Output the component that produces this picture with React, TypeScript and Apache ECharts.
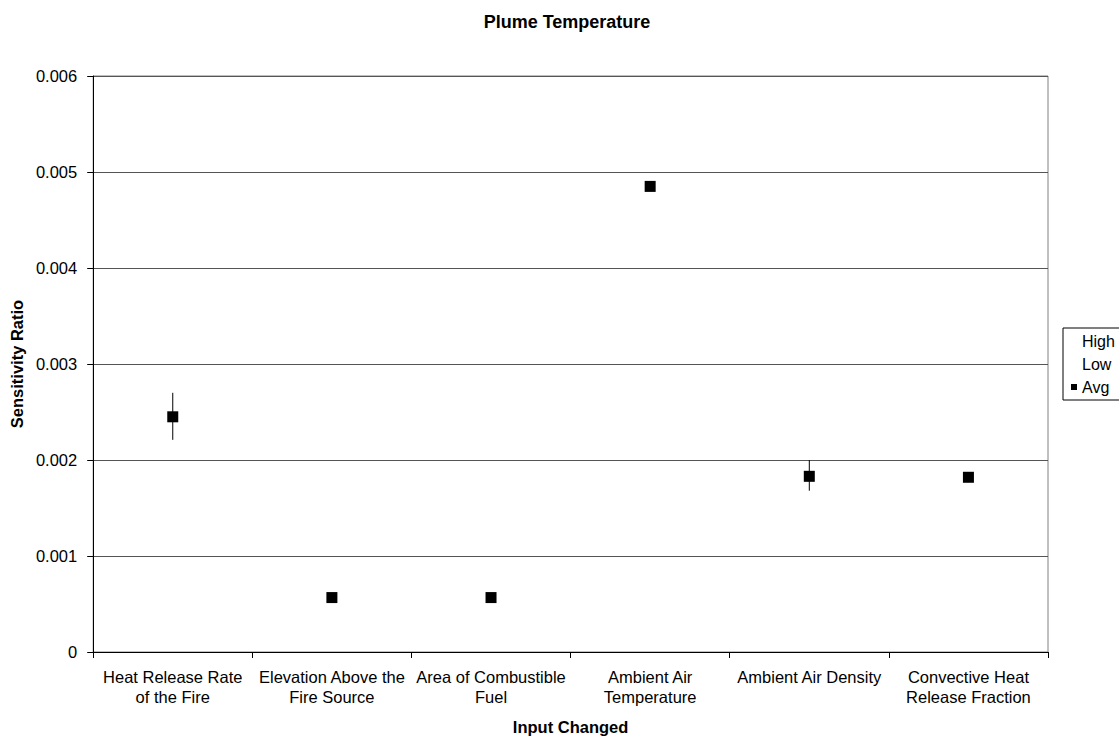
import React, { useEffect, useRef } from "react";
import * as echarts from "echarts";

const categories = [
  "Heat Release Rate\nof the Fire",
  "Elevation Above the\nFire Source",
  "Area of Combustible\nFuel",
  "Ambient Air\nTemperature",
  "Ambient Air Density",
  "Convective Heat\nRelease Fraction",
];
const highValues = [0.0027, 0.000575, 0.000575, 0.004855, 0.002, 0.001825];
const lowValues = [0.00221, 0.00056, 0.00056, 0.004845, 0.00168, 0.001805];
const avgValues = [0.00245, 0.000567, 0.000567, 0.00485, 0.00183, 0.00182];
const yTicks = [0, 0.001, 0.002, 0.003, 0.004, 0.005, 0.006];

const FONT = "'Liberation Sans', Arial, sans-serif";

export default function App() {
  const ref = useRef<HTMLDivElement>(null);
  useEffect(() => {
    if (!ref.current) return;
    const chart = echarts.init(ref.current, undefined, { renderer: "svg" });
    const rangeData = categories.map((_, i) => [i, highValues[i], lowValues[i]]);
    chart.setOption({
      animation: false,
      backgroundColor: "#fff",
      textStyle: { fontFamily: FONT, color: "#000" },
      title: {
        text: "Plume Temperature",
        left: 562,
        textAlign: "center",
        top: 8,
        textStyle: { fontFamily: FONT, fontSize: 18, fontWeight: "bold", color: "#000" },
      },
      legend: {
        orient: "vertical",
        left: 1063,
        top: 328,
        padding: [5, 20, 5, 8],
        borderColor: "#000",
        borderWidth: 1,
        backgroundColor: "#fff",
        itemWidth: 6,
        itemHeight: 6,
        itemGap: 7,
        textStyle: { fontFamily: FONT, fontSize: 16, color: "#000" },
        data: [
          { name: "High", icon: "rect", itemStyle: { opacity: 0 } },
          { name: "Low", icon: "rect", itemStyle: { opacity: 0 } },
          { name: "Avg", icon: "rect", itemStyle: { color: "#000", opacity: 1 } },
        ],
      },
      grid: { left: 90, right: 71, top: 76, bottom: 87, show: true, borderColor: "#808080", borderWidth: 1 },
      xAxis: {
        type: "category",
        data: categories,
        boundaryGap: true,
        name: "Input Changed",
        nameLocation: "middle",
        nameGap: 66,
        nameTextStyle: { fontFamily: FONT, fontSize: 16.5, fontWeight: "bold", color: "#000" },
        axisLine: { lineStyle: { color: "#000", width: 1 } },
        axisTick: { show: true, alignWithLabel: false, length: 6, lineStyle: { color: "#000" } },
        axisLabel: { fontFamily: FONT, fontSize: 16.5, color: "#000", margin: 15, lineHeight: 20, interval: 0 },
        splitLine: { show: false },
      },
      yAxis: {
        type: "value",
        min: 0,
        max: 0.006,
        interval: 0.001,
        name: "Sensitivity Ratio",
        nameLocation: "middle",
        nameGap: 65,
        nameTextStyle: { fontFamily: FONT, fontSize: 16.5, fontWeight: "bold", color: "#000" },
        axisLine: { show: true, lineStyle: { color: "#000", width: 1 } },
        axisTick: { show: true, length: 6, lineStyle: { color: "#000" } },
        axisLabel: {
          fontFamily: FONT,
          fontSize: 16.5,
          color: "#000",
          margin: 16,
          formatter: (v: number) => {
            const t = yTicks.find((x) => Math.abs(x - v) < 1e-9);
            return t === 0 ? "0" : (t ?? v).toFixed(3);
          },
        },
        splitLine: { show: true, lineStyle: { color: "#555", width: 1 } },
      },
      series: [
        {
          name: "range",
          type: "custom",
          data: rangeData,
          encode: { x: 0, y: [1, 2] },
          silent: true,
          renderItem: (params: any, api: any) => {
            const x = api.value(0);
            const hi = api.coord([x, api.value(1)]);
            const lo = api.coord([x, api.value(2)]);
            return {
              type: "line",
              shape: { x1: hi[0], y1: hi[1], x2: lo[0], y2: lo[1] },
              style: { stroke: "#000", lineWidth: 1 },
            };
          },
          z: 2,
        },
        {
          name: "High",
          type: "scatter",
          data: highValues,
          symbolSize: 0,
          itemStyle: { opacity: 0 },
          silent: true,
        },
        {
          name: "Low",
          type: "scatter",
          data: lowValues,
          symbolSize: 0,
          itemStyle: { opacity: 0 },
          silent: true,
        },
        {
          name: "Avg",
          type: "scatter",
          data: avgValues,
          symbol: "rect",
          symbolSize: 11,
          itemStyle: { color: "#000", opacity: 1 },
          z: 3,
        },
      ],
    });
    return () => chart.dispose();
  }, []);
  return (
    <div
      ref={ref}
      style={{ position: "absolute", left: 0, top: 0, width: 1119, height: 740 }}
    />
  );
}
